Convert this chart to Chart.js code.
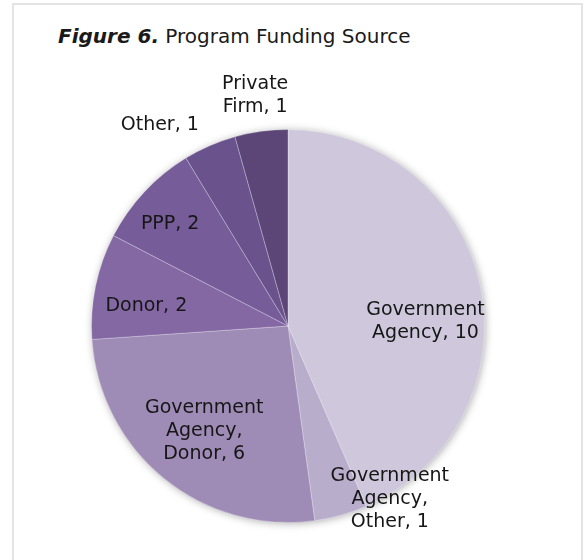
<!DOCTYPE html>
<html>
<head>
<meta charset="utf-8">
<script src="https://cdn.jsdelivr.net/npm/chart.js@4/dist/chart.umd.min.js"></script>
<style>
  html, body { margin: 0; padding: 0; background: #ffffff; overflow: hidden; }
  #frame {
    position: absolute; left: 12px; top: 3px; width: 571px; height: 620px;
    box-sizing: border-box; border: 2px solid #e4e4e4; border-bottom: none;
  }
  #title {
    position: absolute; left: 58px; top: 24px; white-space: nowrap;
    font-family: "DejaVu Sans", Verdana, sans-serif; font-size: 20px; color: #1a1a1a;
  }
  #title b { font-style: italic; }
  #chart { position: absolute; left: 0; top: 0; }
</style>
</head>
<body>
<div id="frame"></div>
<div id="title"><b>Figure 6.</b> Program Funding Source</div>
<canvas id="chart" width="584" height="560"></canvas>
<script>
// Funding sources, clockwise from 12 o'clock ("\n" marks a label line break)
const categories = [
  'Government\nAgency',
  'Government\nAgency,\nOther',
  'Government\nAgency,\nDonor',
  'Donor',
  'PPP',
  'Other',
  'Private\nFirm'
];
const programCounts = [10, 1, 6, 2, 2, 1, 1];
const palette = ['#cfc8dc', '#b9adcc', '#9e8bb6', '#8468a4', '#765c99', '#6a528d', '#5c4678'];

// where each label sits: t = fraction along the slice's sweep, r = fraction of the radius
const labelSpots = [
  { t: 0.562, r: 0.70 },
  { t: -0.442, r: 1.024 },
  { t: 0.495, r: 0.683 },
  { t: 0.38, r: 0.728 },
  { t: 0.428, r: 0.792 },
  { t: -0.083, r: 1.211 },
  { t: 0.482, r: 1.184 }
];

// soft shadow under the whole pie
const pieShadow = {
  id: 'pieShadow',
  beforeDatasetsDraw(chart) {
    const arc = chart.getDatasetMeta(0).data[0];
    if (!arc) return;
    const { x, y, outerRadius } = arc.getProps(['x', 'y', 'outerRadius'], true);
    const ctx = chart.ctx;
    ctx.save();
    ctx.shadowColor = 'rgba(0,0,0,0.35)';
    ctx.shadowBlur = 9;
    ctx.shadowOffsetX = 1;
    ctx.shadowOffsetY = 1;
    ctx.fillStyle = palette[0];
    ctx.beginPath();
    ctx.arc(x, y, outerRadius - 0.5, 0, Math.PI * 2);
    ctx.fill();
    ctx.restore();
  }
};

// "Name, value" labels placed relative to each slice
const sliceLabels = {
  id: 'sliceLabels',
  afterDatasetsDraw(chart) {
    const meta = chart.getDatasetMeta(0);
    const values = chart.data.datasets[0].data;
    const ctx = chart.ctx;
    ctx.save();
    ctx.font = '19px "DejaVu Sans", Verdana, sans-serif';
    ctx.fillStyle = '#161616';
    ctx.textAlign = 'center';
    ctx.textBaseline = 'middle';
    const lineH = 23;
    meta.data.forEach((arc, i) => {
      const p = arc.getProps(['x', 'y', 'startAngle', 'endAngle', 'outerRadius'], true);
      const spot = labelSpots[i];
      const a = p.startAngle + (p.endAngle - p.startAngle) * spot.t;
      const lx = p.x + Math.cos(a) * p.outerRadius * spot.r;
      const ly = p.y + Math.sin(a) * p.outerRadius * spot.r;
      const lines = (chart.data.labels[i] + ', ' + values[i]).split('\n');
      const top = ly - (lines.length - 1) * lineH / 2;
      lines.forEach((ln, k) => ctx.fillText(ln, lx, top + k * lineH));
    });
    ctx.restore();
  }
};

new Chart(document.getElementById('chart'), {
  type: 'pie',
  data: {
    labels: categories,
    datasets: [{
      data: programCounts,
      backgroundColor: palette,
      borderColor: 'rgba(255,255,255,0.28)',
      borderWidth: 1
    }]
  },
  options: {
    responsive: false,
    animation: false,
    layout: { padding: { left: 91, right: 99, top: 129, bottom: 37 } },
    plugins: {
      legend: { display: false },
      tooltip: { enabled: false },
      title: { display: false }
    }
  },
  plugins: [pieShadow, sliceLabels]
});
</script>
</body>
</html>
